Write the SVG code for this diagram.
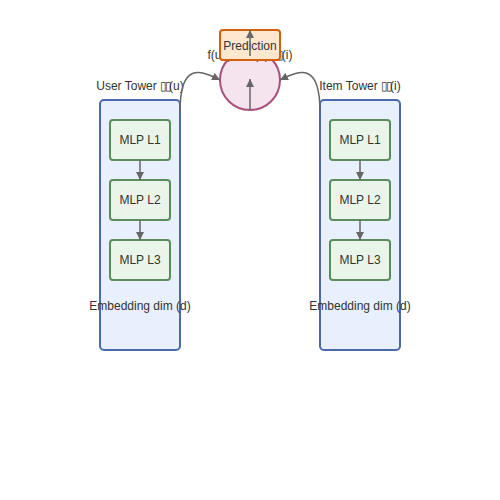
<svg xmlns="http://www.w3.org/2000/svg" width="500" height="500" viewBox="0 0 500 500">
<defs>
<marker id="ah" viewBox="0 0 10 10" refX="10" refY="5" markerWidth="8" markerHeight="8" markerUnits="userSpaceOnUse" orient="auto">
<path d="M0,0 L10,5 L0,10 z" fill="#666"/>
</marker>
<style>
text{font-family:"Liberation Sans",Arial,sans-serif;font-size:12px;fill:#333;text-anchor:middle}
.tofu{letter-spacing:-2.5px}
.tower{fill:#e8f0fd;stroke:#4a6aad;stroke-width:2}
.mlp{fill:#eaf5ea;stroke:#5b8c5b;stroke-width:2}
.edge{fill:none;stroke:#666;stroke-width:1.5;marker-end:url(#ah)}
</style>
</defs>
<rect width="500" height="500" fill="#fff"/>
<g id="user-tower">
<rect class="tower" x="100" y="100" width="80" height="250" rx="4"/>
<text x="140" y="90">User Tower <tspan class="tofu">▯▯</tspan>(u)</text>
<text x="140" y="310">Embedding dim (d)</text>
</g>
<g id="item-tower">
<rect class="tower" x="320" y="100" width="80" height="250" rx="4"/>
<text x="360" y="90">Item Tower <tspan class="tofu">▯▯</tspan>(i)</text>
<text x="360" y="310">Embedding dim (d)</text>
</g>
<g id="u-l1"><rect class="mlp" x="110" y="120" width="60" height="40" rx="3"/><text x="140" y="144">MLP L1</text></g>
<g id="u-l2"><rect class="mlp" x="110" y="180" width="60" height="40" rx="3"/><text x="140" y="204">MLP L2</text></g>
<g id="u-l3"><rect class="mlp" x="110" y="240" width="60" height="40" rx="3"/><text x="140" y="264">MLP L3</text></g>
<g id="i-l1"><rect class="mlp" x="330" y="120" width="60" height="40" rx="3"/><text x="360" y="144">MLP L1</text></g>
<g id="i-l2"><rect class="mlp" x="330" y="180" width="60" height="40" rx="3"/><text x="360" y="204">MLP L2</text></g>
<g id="i-l3"><rect class="mlp" x="330" y="240" width="60" height="40" rx="3"/><text x="360" y="264">MLP L3</text></g>
<g id="dot">
<circle cx="250" cy="80" r="30" fill="#f5e3ee" stroke="#a8507c" stroke-width="2"/>
<text x="250" y="59">f(u,i) = <tspan class="tofu">▯▯</tspan>(u)·<tspan class="tofu">▯▯</tspan>(i)</text>
</g>
<g id="prediction">
<rect x="220" y="30" width="60" height="30" rx="3" fill="#fde8cf" stroke="#d55f0c" stroke-width="2"/>
<text x="250" y="50">Prediction</text>
</g>
<g id="connectors">
<path class="edge" d="M140,160 L140,180"/>
<path class="edge" d="M140,220 L140,240"/>
<path class="edge" d="M360,160 L360,180"/>
<path class="edge" d="M360,220 L360,240"/>
<path class="edge" d="M180,112 C180,62 200,70 220,80"/>
<path class="edge" d="M320,112 C320,62 300,70 280,80"/>
<path class="edge" d="M250,110 L250,79"/>
<path class="edge" d="M250,56 L250,30"/>
</g>
</svg>
